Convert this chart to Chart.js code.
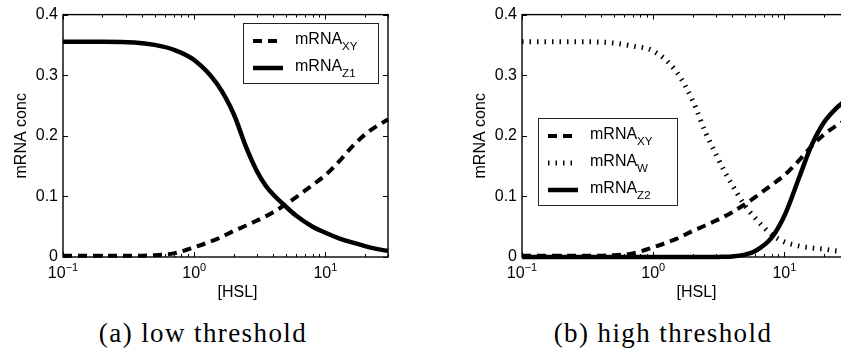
<!DOCTYPE html>
<html>
<head>
<meta charset="utf-8">
<script src="https://cdn.jsdelivr.net/npm/chart.js@4.4.0/dist/chart.umd.min.js"></script>
<style>
html, body { margin:0; padding:0; background:#fff; overflow:hidden; width:841px; height:358px; }
.panel { position:absolute; top:0; }
.caption { position:absolute; top:320px; width:320px; text-align:center; font-family:"Liberation Serif", serif; font-size:27px; line-height:27px; letter-spacing:1.4px; color:#000; }
</style>
</head>
<body>
<div class="panel" style="left:0"><canvas id="chartA" width="392" height="300"></canvas></div>
<div class="panel" style="left:459px"><canvas id="chartB" width="392" height="300"></canvas></div>
<div class="caption" style="left:43px">(a) low threshold</div>
<div class="caption" style="left:503px">(b) high threshold</div>
<script>
// --- dati ---
const hsl = [0.1, 0.2, 0.35, 0.5, 0.7, 1, 1.5, 2, 2.5, 3, 3.5, 4, 5, 6, 8, 10, 13, 16, 20, 25, 30];
const mrnaXY = [0.002, 0.002, 0.002, 0.003, 0.006, 0.016, 0.030, 0.043, 0.052, 0.060, 0.067, 0.074, 0.087, 0.099, 0.119, 0.135, 0.160, 0.182, 0.202, 0.217, 0.227];
const mrnaZ1 = [0.355, 0.355, 0.354, 0.350, 0.342, 0.325, 0.285, 0.236, 0.180, 0.142, 0.118, 0.103, 0.083, 0.068, 0.050, 0.040, 0.030, 0.024, 0.018, 0.013, 0.010];
const mrnaW = [0.355, 0.355, 0.355, 0.353, 0.348, 0.340, 0.306, 0.258, 0.206, 0.170, 0.141, 0.119, 0.085, 0.064, 0.037, 0.025, 0.018, 0.015, 0.013, 0.010, 0.009];
const mrnaZ2 = [0, 0, 0, 0, 0, 0, 0, 0, 0, 0, 0.0005, 0.001, 0.004, 0.010, 0.032, 0.068, 0.132, 0.183, 0.222, 0.246, 0.260];
const yTicks = [0, 0.1, 0.2, 0.3, 0.4];
const xDecades = [-1, 0, 1];

const FONT = '"Liberation Sans", Arial, sans-serif';
const pts = vals => hsl.map((x, i) => ({ x, y: vals[i] }));

const dashed = { borderDash: [9, 6], borderWidth: 4 };
const dotted = { borderDash: [1.5, 6], borderWidth: 5 };
const solid = { borderDash: [], borderWidth: 4.5 };

// cornice stile matlab: box, tacche interne, etichette 10^n, legenda con pedici
const matlabFrame = {
    id: 'matlabFrame',
    afterDatasetsDraw(chart, args, opts) {
        const { ctx, chartArea: a, scales: { x, y } } = chart;
        ctx.save();
        ctx.setLineDash([]);
        ctx.strokeStyle = '#000';
        ctx.lineWidth = 1.4;
        ctx.strokeRect(a.left, a.top, a.width, a.height);

        ctx.beginPath();
        xDecades.forEach(d => {
            for (let m = 1; m < 10; m++) {
                const v = m * Math.pow(10, d);
                if (v < x.min || v > x.max) continue;
                const px = Math.round(x.getPixelForValue(v)) + 0.5;
                const len = m === 1 ? 5 : 3;
                ctx.moveTo(px, a.bottom); ctx.lineTo(px, a.bottom - len);
                ctx.moveTo(px, a.top); ctx.lineTo(px, a.top + len);
            }
        });
        yTicks.forEach(v => {
            const py = Math.round(y.getPixelForValue(v)) + 0.5;
            ctx.moveTo(a.left, py); ctx.lineTo(a.left + 5, py);
            ctx.moveTo(a.right, py); ctx.lineTo(a.right - 5, py);
        });
        ctx.lineWidth = 1;
        ctx.stroke();

        // etichette asse x con esponente
        ctx.fillStyle = '#000';
        ctx.textBaseline = 'alphabetic';
        ctx.textAlign = 'left';
        xDecades.forEach(d => {
            const px = x.getPixelForValue(Math.pow(10, d));
            const exp = d < 0 ? '\u2212' + (-d) : String(d);
            ctx.font = '16px ' + FONT;
            const w1 = ctx.measureText('10').width;
            ctx.font = '11px ' + FONT;
            const w2 = ctx.measureText(exp).width;
            const x0 = px - (w1 + w2) / 2;
            ctx.font = '16px ' + FONT;
            ctx.fillText('10', x0, a.bottom + 21);
            ctx.font = '11px ' + FONT;
            ctx.fillText(exp, x0 + w1, a.bottom + 14);
        });
        ctx.font = '16px ' + FONT;
        ctx.textAlign = 'center';
        ctx.fillText('[HSL]', (a.left + a.right) / 2 + 12, a.bottom + 40);

        // legenda
        const lg = opts.legend;
        const n = chart.data.datasets.length;
        const h = n * 27 + 6;
        ctx.fillStyle = '#fff';
        ctx.fillRect(lg.x, lg.y, lg.w, h);
        ctx.strokeStyle = '#222';
        ctx.lineWidth = 1;
        ctx.strokeRect(lg.x + 0.5, lg.y + 0.5, lg.w, h);
        chart.data.datasets.forEach((ds, i) => {
            const base = lg.y + 21 + i * 27;
            ctx.beginPath();
            ctx.setLineDash(ds.borderDash || []);
            ctx.lineWidth = ds.borderWidth;
            ctx.lineCap = 'butt';
            ctx.strokeStyle = '#000';
            ctx.moveTo(lg.x + 10, base - 3);
            ctx.lineTo(lg.x + 40, base - 3);
            ctx.stroke();
            ctx.fillStyle = '#000';
            ctx.textAlign = 'left';
            ctx.font = '16px ' + FONT;
            ctx.fillText(ds.label, lg.x + 52, base);
            const w = ctx.measureText(ds.label).width;
            ctx.font = '11.5px ' + FONT;
            ctx.fillText(ds.sub, lg.x + 52 + w, base + 6);
        });
        ctx.restore();
    }
};

function makeChart(id, datasets, legend) {
    return new Chart(document.getElementById(id), {
        type: 'line',
        data: { datasets },
        options: {
            responsive: false,
            animation: false,
            layout: { padding: { top: 14, right: 4, bottom: 43, left: 0 } },
            elements: { point: { radius: 0 }, line: { borderColor: '#000', borderCapStyle: 'butt', cubicInterpolationMode: 'monotone' } },
            scales: {
                x: { type: 'logarithmic', min: 0.1, max: 30, display: false },
                y: {
                    min: 0, max: 0.4,
                    afterFit: s => { s.width = 63; },
                    afterBuildTicks: s => { s.ticks = yTicks.map(v => ({ value: v })); },
                    grid: { display: false, drawTicks: false },
                    border: { display: false },
                    ticks: { color: '#000', padding: 5, font: { family: FONT, size: 16 }, callback: v => String(+v.toFixed(1)) },
                    title: { display: true, text: 'mRNA conc', color: '#000', font: { family: FONT, size: 16 }, padding: { top: 12, bottom: 0 } }
                }
            },
            plugins: {
                legend: { display: false },
                tooltip: { enabled: false },
                matlabFrame: { legend }
            }
        },
        plugins: [matlabFrame]
    });
}

const line = (vals, style, sub) => Object.assign({ label: 'mRNA', sub, data: pts(vals), borderColor: '#000', clip: false }, style);

makeChart('chartA', [
    line(mrnaXY, dashed, 'XY'),
    line(mrnaZ1, solid, 'Z1')
], { x: 243, y: 23, w: 135 });

makeChart('chartB', [
    line(mrnaXY, dashed, 'XY'),
    line(mrnaW, dotted, 'W'),
    line(mrnaZ2, solid, 'Z2')
], { x: 79, y: 118, w: 139 });
</script>
</body>
</html>
